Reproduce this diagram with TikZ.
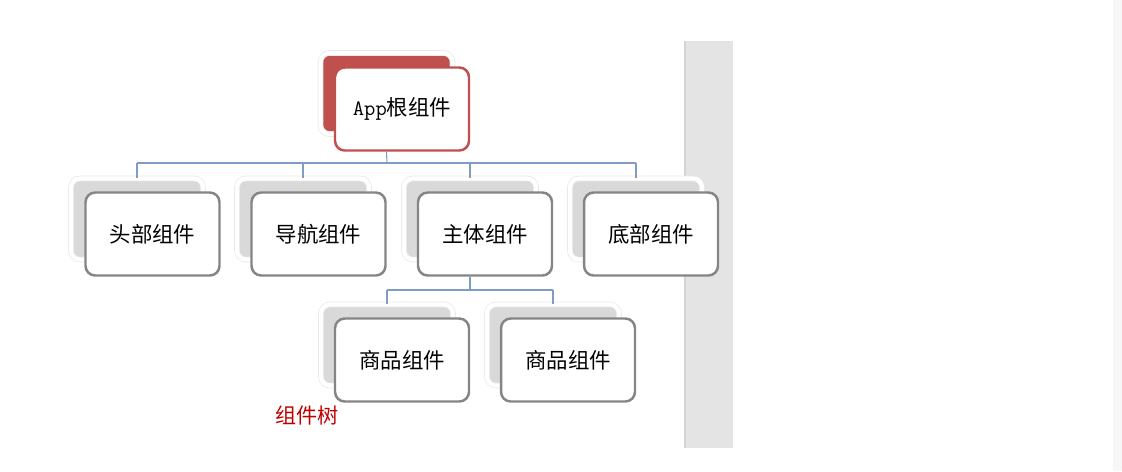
\documentclass[tikz,border=0pt]{standalone}
\usepackage{fontspec}
\newfontfamily\cjk{Noto Sans CJK SC}
\usetikzlibrary{positioning, calc}

\definecolor{rootred}{HTML}{C0504D}
\definecolor{linkblue}{HTML}{7F9CC4}
\definecolor{backgray}{HTML}{D9D9D9}
\definecolor{framegray}{HTML}{858585}
\definecolor{stripgray}{HTML}{E4E4E4}
\definecolor{labelred}{HTML}{C00000}

\begin{document}
\begin{tikzpicture}[
  x=0.02cm, y=-0.02cm,
  backbox/.style={rounded corners=5pt, fill=backgray, draw=black!9,
                  double=white, double distance=2.4pt,
                  minimum width=2.64cm, minimum height=1.62cm, inner sep=0pt},
  frontbox/.style={rounded corners=5.5pt, fill=white, draw=framegray, line width=1.4pt,
                   minimum width=2.68cm, minimum height=1.66cm, inner sep=0pt,
                   font=\cjk\fontsize{12.2}{14}\selectfont},
  link/.style={draw=linkblue, line width=0.6pt},
  note/.style={font=\cjk\fontsize{12}{14}\selectfont, text=labelred}
]
\useasboundingbox (0,0) rectangle (1122,471);

% --- side strips ---
\fill[stripgray] (684,41) rectangle (733,448);
\fill[black!17] (684,41) rectangle (686,448);
\fill[black!3] (1113,0) rectangle (1122,471);

% --- root ---
\node[backbox, fill=rootred] (rootb) at (386.5,93.5) {};
\node[frontbox, draw=rootred] (root) at (402,109) {{\ttfamily\fontsize{12.5}{14}\selectfont App}根组件};

% --- second level ---
\node[backbox] (headb) at (137,219) {};
\node[frontbox] (head) at (152.5,234) {头部组件};
\node[backbox] (navb) at (303,219) {};
\node[frontbox] (nav) at (318.5,234) {导航组件};
\node[backbox] (bodyb) at (470,219) {};
\node[frontbox] (body) at (485,234) {主体组件};
\node[backbox] (footb) at (636,219) {};
\node[frontbox] (foot) at (651,234) {底部组件};

% --- third level ---
\node[backbox] (goodab) at (387,345) {};
\node[frontbox] (gooda) at (402,360) {商品组件};
\node[backbox] (goodbb) at (553,345) {};
\node[frontbox] (goodb) at (568,360) {商品组件};

% === links: root to second level ===
\coordinate (bar) at (387,163);
\draw[link] (rootb.center |- root.south) -- (bar);
\draw[link] (bar -| headb.north) -- (bar -| footb.north);
\foreach \n in {headb, navb, bodyb, footb}
  \draw[link] (bar -| \n.north) -- (\n.north);

% === links: body to third level ===
\coordinate (subbar) at (470,290);
\draw[link] (bodyb.center |- body.south) -- (subbar);
\draw[link] (subbar -| goodab.north) -- (subbar -| goodbb.north);
\foreach \n in {goodab, goodbb}
  \draw[link] (subbar -| \n.north) -- (\n.north);

% === caption ===
\node[note] (cap) at (307,415) {组件树};

\end{tikzpicture}
\end{document}
